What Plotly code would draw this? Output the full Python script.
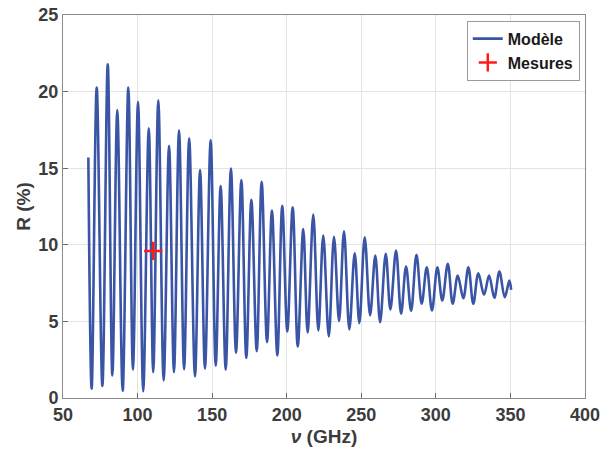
import plotly.graph_objects as go

# Model curve: extrema (frequency GHz, reflectance %)
freq_ghz = [67.0, 69.2, 72.6, 76.4, 80.0, 83.1, 86.4, 90.0, 93.8, 96.9, 100.3, 103.8,
            107.5, 110.5, 113.9, 117.5, 121.1, 124.4, 127.8, 131.2, 134.6, 138.5,
            141.9, 145.2, 149.0, 152.4, 155.7, 159.1, 162.6, 166.0, 169.6, 172.9,
            176.3, 179.9, 183.2, 186.8, 190.1, 193.7, 197.0, 200.4, 204.0, 207.4,
            211.1, 214.0, 217.8, 221.2, 224.5, 228.2, 231.7, 235.1, 238.4, 242.0,
            245.6, 248.7, 252.3, 255.9, 259.4, 262.6, 266.4, 269.5, 273.3, 276.7,
            280.0, 283.4, 287.0, 290.5, 293.9, 297.4, 301.0, 304.3, 308.0, 311.3,
            314.7, 318.4, 321.8, 325.1, 328.5, 332.3, 335.7, 339.2, 342.6, 346.2,
            349.3, 350.5]
r_model = [15.7, 0.61, 20.26, 0.78, 21.78, 1.48, 18.79, 0.46, 20.26, 1.85, 19.33, 0.44,
           17.61, 1.69, 19.44, 1.15, 16.46, 1.69, 17.48, 1.88, 16.95, 1.41,
           14.88, 1.92, 16.83, 2.11, 13.84, 1.85, 14.98, 2.96, 14.23, 2.61,
           12.93, 3.06, 14.12, 3.65, 12.23, 2.78, 12.55, 4.35, 12.44, 3.37,
           11.02, 4.28, 11.97, 4.41, 10.60, 4.02, 10.53, 5.02, 10.88, 4.48,
           9.45, 4.89, 10.49, 5.39, 9.30, 4.95, 9.41, 5.78, 9.62, 5.50,
           8.58, 5.69, 9.35, 6.15, 8.53, 5.71, 8.53, 6.36, 8.76, 6.15,
           7.99, 6.51, 8.53, 6.15, 8.14, 6.74, 7.99, 6.54, 8.25, 6.58,
           7.67, 7.06]

# Measurement
meas_freq = [110.5]
meas_r = [9.6]

x_ticks = [50, 100, 150, 200, 250, 300, 350, 400]
y_ticks = [0, 5, 10, 15, 20, 25]

FONT = "Liberation Sans, Arial, Helvetica, sans-serif"
TXT = "#3c3c3c"

fig = go.Figure()
fig.add_trace(go.Scatter(
    x=freq_ghz, y=r_model, mode="lines", name="<b>Modèle</b>",
    line=dict(color="#3a55a6", width=2.6, shape="spline", smoothing=1.0),
))
fig.add_trace(go.Scatter(
    x=meas_freq, y=meas_r, mode="markers", name="<b>Mesures</b>",
    marker=dict(symbol="cross-thin", size=13, color="#ff1a1a",
                line=dict(color="#ff1a1a", width=2.5)),
))

axis_common = dict(
    showgrid=True, gridcolor="#e3e3e3", gridwidth=1,
    showline=True, linecolor="#8a8a8a", linewidth=1, mirror=True,
    ticks="inside", ticklen=5, tickcolor="#6a6a6a",
    zeroline=False, automargin=False, ticklabeloverflow="allow",
    tickfont=dict(family=FONT, size=18, color=TXT),
)

fig.update_xaxes(
    range=[50, 400], tickvals=x_ticks, ticktext=[f"<b>{v}</b>" for v in x_ticks],
    title=dict(text="<b><i>ν</i> (GHz)</b>", font=dict(family=FONT, size=19, color=TXT),
               standoff=6),
    **axis_common,
)
fig.update_yaxes(
    range=[0, 25], tickvals=y_ticks, ticktext=[f"<b>{v}</b>" for v in y_ticks],
    title=dict(text="<b>R (%)</b>", font=dict(family=FONT, size=19, color=TXT),
               standoff=2),
    **axis_common,
)

fig.update_layout(
    width=604, height=459,
    margin=dict(l=63, r=19, t=15, b=61),
    plot_bgcolor="white", paper_bgcolor="white",
    font=dict(family=FONT, color="#1a1a1a"),
    legend=dict(
        x=0.99, y=0.985, xanchor="right", yanchor="top",
        bgcolor="white", bordercolor="#9a9a9a", borderwidth=1,
        font=dict(family=FONT, size=16, color="#1a1a1a"),
        itemwidth=30, tracegroupgap=0,
    ),
    showlegend=True,
)

# remove the default page margin so the 604x459 figure fills the window exactly
fig.write_html(
    "out.html",
    config={"displayModeBar": False},
    post_script="document.body.style.margin='0';document.body.style.overflow='hidden';",
)
